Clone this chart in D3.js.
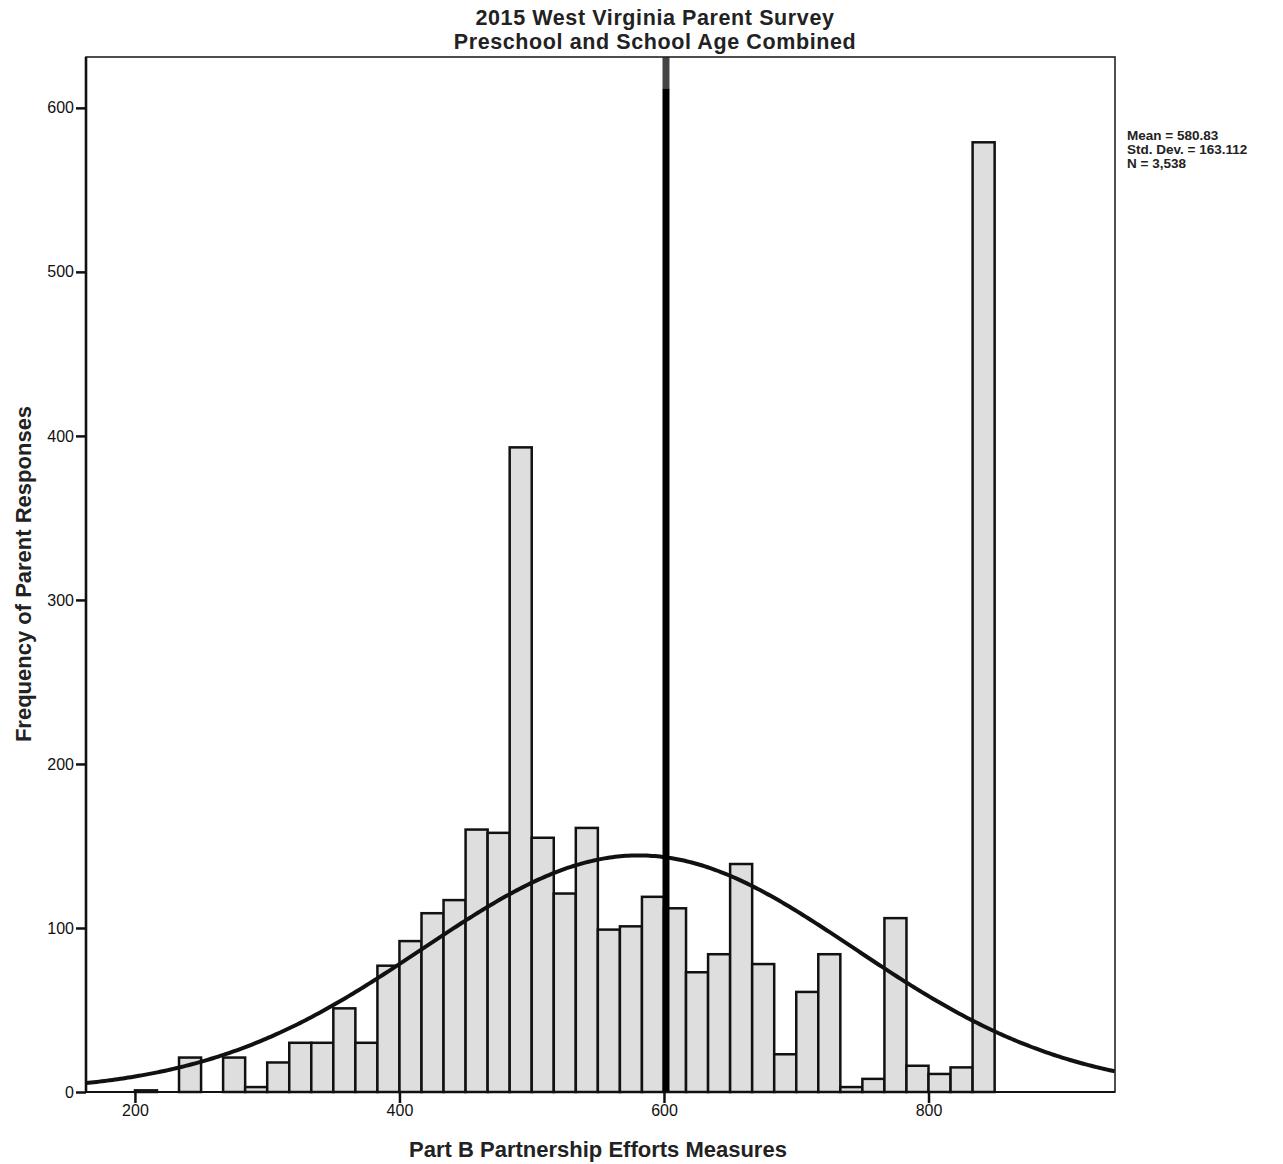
<!DOCTYPE html>
<html>
<head>
<meta charset="utf-8">
<script src="https://cdn.jsdelivr.net/npm/d3@7"></script>
<style>
  body { margin: 0; background: #fff; }
  svg { display: block; font-family: "Liberation Sans", Arial, sans-serif; }
  .tick text { font-family: "Liberation Sans Narrow", "Arial Narrow", "Liberation Sans", sans-serif; font-size: 16px; fill: #111; }
  .tick line { stroke: #111; stroke-width: 2.5; }
</style>
</head>
<body>
<svg width="1283" height="1164"></svg>
<script>
// histogram of Part B partnership efforts measures, SPSS style
const titleLines = ["2015 West Virginia Parent Survey", "Preschool and School Age Combined"];
const xLabel = "Part B Partnership Efforts Measures";
const yLabel = "Frequency of Parent Responses";

const binStart = 200;
const binWidth = 50 / 3;
// counts per bin
const counts = [1, 0, 21, 0, 21, 3, 18, 30, 30, 51, 30, 77, 92, 109, 117, 160, 158, 393, 155, 121,
  161, 99, 101, 119, 112, 73, 84, 139, 78, 23, 61, 84, 3, 8, 106, 16, 11, 15, 579];

const xTicks = [200, 400, 600, 800];
const yTicks = [0, 100, 200, 300, 400, 500, 600];

const stats = { mean: 580.83, sd: 163.112, n: 3538 };
const statLines = ["Mean = 580.83", "Std. Dev. = 163.112", "N = 3,538"];
const refValue = 600;

const svg = d3.select("svg");

const x = d3.scaleLinear().domain([163, 941]).range([86, 1115]);
const y = d3.scaleLinear().domain([0, 631]).range([1092, 57]);

// bars
svg.append("g")
  .selectAll("rect")
  .data(counts.map((c, i) => ({ x0: binStart + i * binWidth, x1: binStart + (i + 1) * binWidth, c })))
  .enter()
  .filter((d) => d.c > 0)
  .append("rect")
  .attr("x", (d) => x(d.x0))
  .attr("width", (d) => x(d.x1) - x(d.x0))
  .attr("y", (d) => y(d.c))
  .attr("height", (d) => y(0) - y(d.c))
  .attr("fill", "#dedede")
  .attr("stroke", "#111")
  .attr("stroke-width", 2.5);

// normal curve from the stats shown at right
const pdf = (v) => Math.exp(-0.5 * ((v - stats.mean) / stats.sd) ** 2) / (stats.sd * Math.sqrt(2 * Math.PI));
const curve = d3.range(163, 941.5, 2).map((v) => [v, stats.n * binWidth * pdf(v)]);
svg.append("path")
  .datum(curve)
  .attr("fill", "none")
  .attr("stroke", "#111")
  .attr("stroke-width", 4)
  .attr("d", d3.line().x((d) => x(d[0])).y((d) => y(d[1])));

// reference line at 600
svg.append("line")
  .attr("x1", x(refValue) + 2).attr("x2", x(refValue) + 2)
  .attr("y1", y(0)).attr("y2", y(612))
  .attr("stroke", "#000")
  .attr("stroke-width", 7);
svg.append("line")
  .attr("x1", x(refValue) + 2).attr("x2", x(refValue) + 2)
  .attr("y1", y(612)).attr("y2", y(631))
  .attr("stroke", "#444")
  .attr("stroke-width", 7);

// frame
svg.append("rect")
  .attr("x", x(163)).attr("y", y(631))
  .attr("width", x(941) - x(163)).attr("height", y(0) - y(631))
  .attr("fill", "none")
  .attr("stroke", "#222")
  .attr("stroke-width", 1.6);
svg.append("line")
  .attr("x1", x(163)).attr("x2", x(163)).attr("y1", y(0)).attr("y2", y(631))
  .attr("stroke", "#111").attr("stroke-width", 2.6);
svg.append("line")
  .attr("x1", x(163)).attr("x2", x(941)).attr("y1", y(0)).attr("y2", y(0))
  .attr("stroke", "#111").attr("stroke-width", 2.2);

// axes
svg.append("g")
  .attr("transform", `translate(${x(163)},0)`)
  .call(d3.axisLeft(y).tickValues(yTicks).tickSize(10).tickPadding(2))
  .call((g) => g.select(".domain").remove());

svg.append("g")
  .attr("transform", `translate(0,${y(0)})`)
  .call(d3.axisBottom(x).tickValues(xTicks).tickSize(11).tickPadding(2))
  .call((g) => g.select(".domain").remove());

// titles
svg.append("g")
  .selectAll("text")
  .data(titleLines)
  .enter()
  .append("text")
  .attr("x", 655)
  .attr("y", (d, i) => 25 + i * 24)
  .attr("text-anchor", "middle")
  .attr("font-size", 21.5)
  .attr("font-weight", "bold")
  .attr("letter-spacing", 0.6)
  .attr("fill", "#222")
  .text((d) => d);

svg.append("text")
  .attr("x", 598)
  .attr("y", 1157)
  .attr("text-anchor", "middle")
  .attr("font-size", 22)
  .attr("font-weight", "bold")
  .attr("fill", "#222")
  .text(xLabel);

svg.append("text")
  .attr("transform", "translate(31,574) rotate(-90)")
  .attr("text-anchor", "middle")
  .attr("font-size", 22)
  .attr("font-weight", "bold")
  .attr("fill", "#222")
  .text(yLabel);

// stats box
svg.append("g")
  .selectAll("text")
  .data(statLines)
  .enter()
  .append("text")
  .attr("x", 1127)
  .attr("y", (d, i) => 140 + i * 14)
  .attr("font-size", 13.5)
  .attr("font-weight", "bold")
  .attr("fill", "#222")
  .text((d) => d);
</script>
</body>
</html>
